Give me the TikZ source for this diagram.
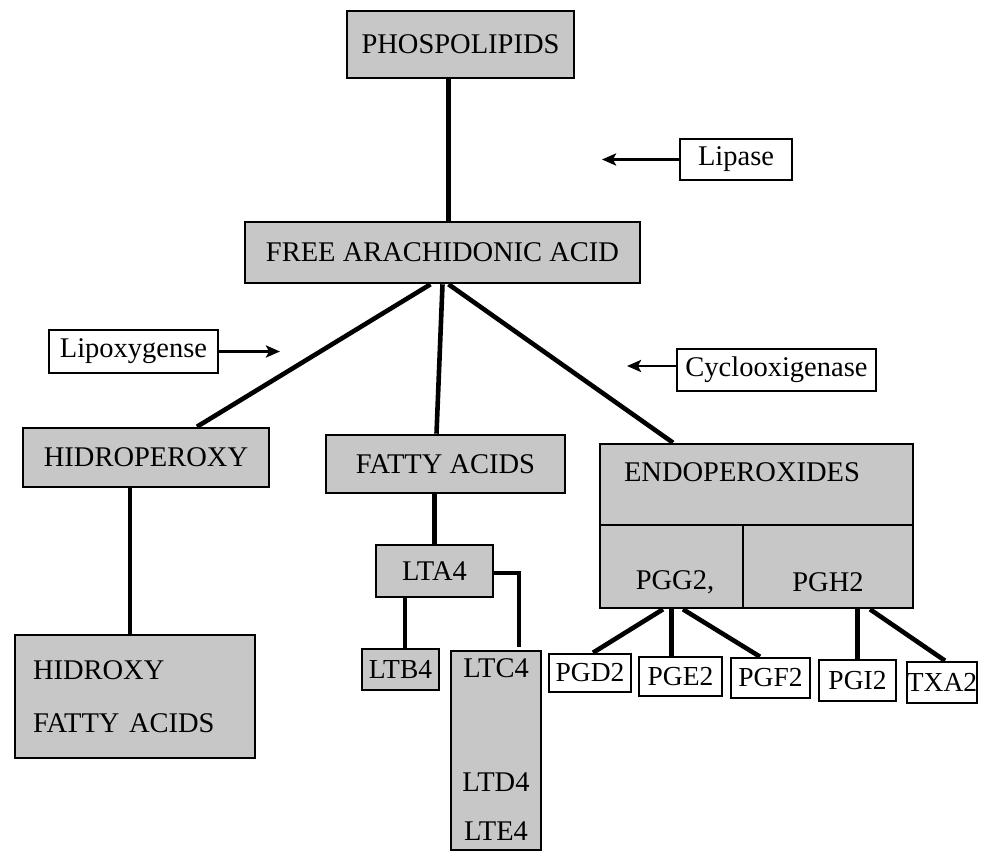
\documentclass[tikz,border=0pt]{standalone}
\usepackage{fontspec}
\setmainfont{Liberation Serif}
\usetikzlibrary{arrows.meta,calc}
\begin{document}
\begin{tikzpicture}[x=1pt,y=-1pt,
  box/.style={draw,line width=2.6pt,inner sep=0pt,font=\fontsize{28.5}{34}\selectfont},
  shadebox/.style={box,fill=black!22},
  plainbox/.style={box,fill=white},
  pgbox/.style={plainbox,font=\fontsize{27.5}{32}\selectfont},
  txt/.style={inner sep=0pt,font=\fontsize{28.5}{34}\selectfont},
  conn/.style={line width=4.6pt},
  enz/.style={line width=2.8pt,-{Stealth[length=14pt,width=12pt,inset=3pt]}}]
\useasboundingbox (0,0) rectangle (989,853);
% main boxes
\node[shadebox,minimum width=227pt,minimum height=67pt] (phos) at (460.5,44.5) {PHOSPOLIPIDS};
\node[shadebox,minimum width=395pt,minimum height=61pt] (faa) at (442.5,252.5) {FREE ARACHIDONIC ACID};
\node[plainbox,minimum width=112pt,minimum height=41pt] (lipase) at (736,159.5) {Lipase};
\node[plainbox,minimum width=199pt,minimum height=42pt] (cyclo) at (776.5,370) {Cyclooxigenase};
\node[plainbox,minimum width=169pt,minimum height=43pt] (lipox) at (133.5,351.5) {Lipoxygense};
\node[shadebox,minimum width=246pt,minimum height=59pt] (hper) at (146,457.5) {HIDROPEROXY};
\node[shadebox,minimum width=239pt,minimum height=58pt] (fatty) at (445.5,464) {FATTY ACIDS};
\node[shadebox,minimum width=240pt,minimum height=123pt,align=left,text width=204pt,
      font=\fontsize{28.5}{53}\selectfont] (hidroxy) at (135,696.5) {HIDROXY\\FATTY ACIDS};
\node[shadebox,minimum width=117pt,minimum height=52pt] (lta4) at (434.5,571) {LTA4};
\node[shadebox,minimum width=77pt,minimum height=41pt,font=\fontsize{27.5}{32}\selectfont] (ltb4) at (400.5,669.5) {LTB4};
\node[shadebox,minimum width=90pt,minimum height=199pt] (ltc) at (496,750.5) {};
\node[txt] (ltcT) at (496,668) {LTC4};
\node[txt] (ltdT) at (496,782) {LTD4};
\node[txt] (lteT) at (496,831) {LTE4};
% endoperoxides block
\node[shadebox,minimum width=313pt,minimum height=81pt] (endo) at (756.5,484.5) {};
\node[shadebox,minimum width=143pt,minimum height=83pt] (pgg2) at (671.5,566.5) {};
\node[shadebox,minimum width=170pt,minimum height=83pt] (pgh2) at (828,566.5) {};
\node[txt] (endoT) at (742,472) {ENDOPEROXIDES};
\node[txt] (pggT) at (675,582) {PGG2,};
\node[txt] (pghT) at (828,582) {PGH2};
% prostanoids
\node[pgbox,minimum width=82pt,minimum height=38pt] (pgd2) at (590,673) {PGD2};
\node[pgbox,minimum width=83pt,minimum height=39pt] (pge2) at (680.5,676.5) {PGE2};
\node[pgbox,minimum width=79pt,minimum height=40pt] (pgf2) at (770.5,678) {PGF2};
\node[pgbox,minimum width=77pt,minimum height=41pt] (pgi2) at (857.5,680.5) {PGI2};
\node[pgbox,minimum width=70pt,minimum height=41pt] (txa2) at (942,682.5) {TXA2};
% connectors
\coordinate (faaTop) at ([xshift=6pt]faa.north);
\draw[conn] (phos.south -| faaTop) -- (faaTop);
\draw[conn] ([xshift=-12pt]faa.south) -- ([xshift=51pt]hper.north);
\draw[conn] (faa.south) -- ([xshift=-9pt]fatty.north);
\draw[conn] ([xshift=6pt]faa.south) -- ([xshift=-83.5pt]endo.north);
\draw[conn] ([xshift=-16pt]hper.south) -- ([xshift=-5pt]hidroxy.north);
\draw[conn] (lta4.north |- fatty.south) -- (lta4.north);
\draw[conn] ([xshift=-29.5pt]lta4.south) -- ([xshift=-29.5pt]lta4.south |- ltb4.north);
\draw[conn] ([yshift=-2pt]lta4.east) -| ([xshift=23pt,yshift=3pt]ltc.north);
\draw[conn] ([xshift=-8.5pt]pgg2.south) -- ([xshift=3pt]pgd2.north);
\draw[conn] (pgg2.south) -- (pgg2.south |- pge2.north);
\draw[conn] ([xshift=11.5pt]pgg2.south) -- ([xshift=-10.5pt]pgf2.north);
\draw[conn] (pgi2.north |- pgh2.south) -- (pgi2.north);
\draw[conn] ([xshift=42pt]pgh2.south) -- ([xshift=3pt]txa2.north);
% enzyme arrows
\coordinate (lipT) at (602,159.5);
\coordinate (cycT) at (627,366);
\coordinate (loxT) at (280,351.5);
\draw[enz] (lipase.west) -- (lipT);
\draw[enz] ([yshift=4pt]cyclo.west) -- (cycT);
\draw[enz] (lipox.east) -- (loxT);
\end{tikzpicture}
\end{document}
